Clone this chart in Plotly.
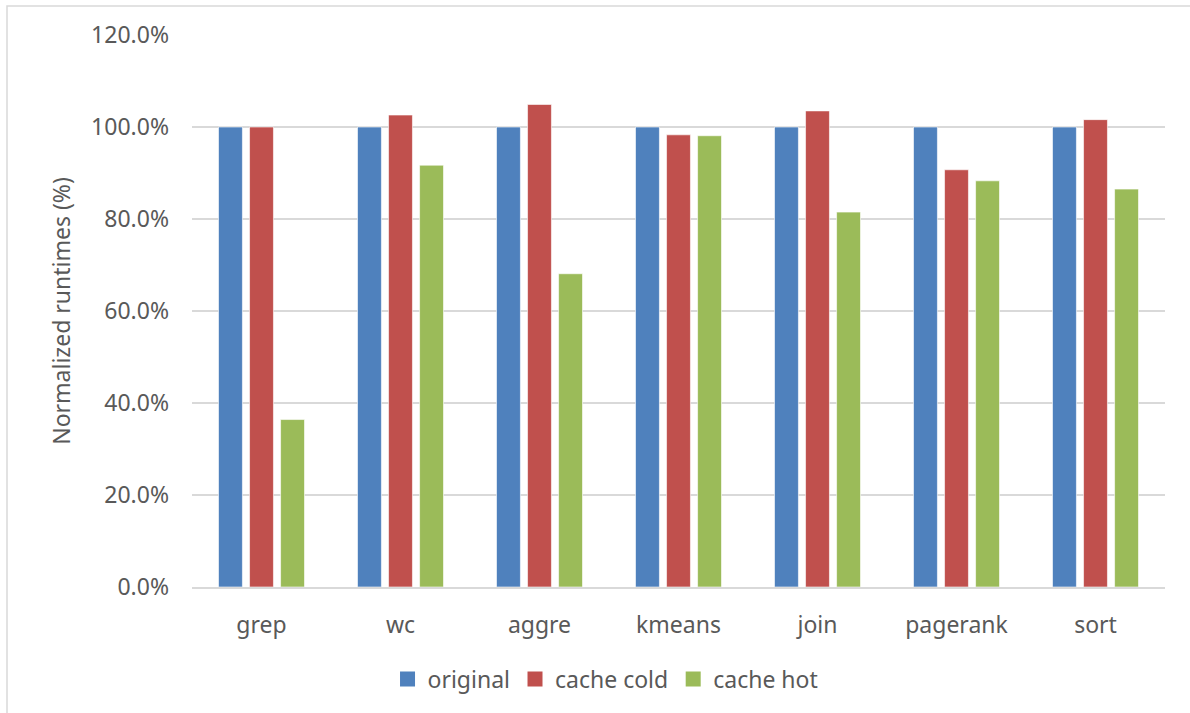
import plotly.graph_objects as go

# Workloads and normalized runtimes (% of the original run)
workloads = ["grep", "wc", "aggre", "kmeans", "join", "pagerank", "sort"]
original = [100.0, 100.0, 100.0, 100.0, 100.0, 100.0, 100.0]
cache_cold = [100.0, 102.6, 104.9, 98.3, 103.5, 90.7, 101.6]
cache_hot = [36.4, 91.7, 68.1, 98.1, 81.5, 88.3, 86.5]

series = [
    ("original", original, "#4F81BD"),
    ("cache cold", cache_cold, "#C0504D"),
    ("cache hot", cache_hot, "#9BBB59"),
]

FONT = "Noto Sans, Open Sans, sans-serif"
TEXT = "#595959"
FS = 23

fig = go.Figure()
for name, vals, color in series:
    fig.add_trace(go.Bar(
        name=name,
        x=workloads,
        y=vals,
        showlegend=False,
        marker=dict(color=color, line=dict(color="rgba(255,255,255,0.6)", width=1)),
    ))
# legend entries with larger square keys
for name, vals, color in series:
    fig.add_trace(go.Scatter(
        name=name,
        x=[workloads[0]],
        y=[None],
        mode="markers",
        marker=dict(symbol="square", size=15, color=color),
        showlegend=True,
    ))

# plot area in pixels: x 192..1165, y 35..587
W, H = 1190, 713
L, R, T, B = 192, 25, 35, 126
pw, ph = W - L - R, H - T - B

def px(x):
    return (x - L) / pw

def py(y):
    return (H - B - y) / ph

fig.update_layout(
    width=W,
    height=H,
    margin=dict(l=L, r=R, t=T, b=B, pad=0),
    paper_bgcolor="white",
    plot_bgcolor="white",
    barmode="group",
    bargap=0.33,
    bargroupgap=0.23,
    font=dict(family=FONT, size=FS, color=TEXT),
    showlegend=True,
    legend=dict(
        orientation="h",
        x=0.425,
        xanchor="center",
        y=py(679),
        yanchor="middle",
        font=dict(family=FONT, size=FS, color=TEXT),
        itemsizing="trace",
        traceorder="normal",
        itemwidth=30,
        tracegroupgap=0,
    ),
    xaxis=dict(
        showgrid=False,
        showline=True,
        linecolor="#D9D9D9",
        linewidth=2,
        ticks="",
        ticklabelstandoff=16,
        tickfont=dict(family=FONT, size=FS, color=TEXT),
    ),
    yaxis=dict(
        range=[0, 120],
        tickvals=[0, 20, 40, 60, 80, 100, 120],
        ticktext=["0.0%", "20.0%", "40.0%", "60.0%", "80.0%", "100.0%", "120.0%"],
        showgrid=True,
        gridcolor="#D9D9D9",
        gridwidth=2,
        zeroline=False,
        showline=False,
        ticks="",
        ticklabelstandoff=22,
        tickfont=dict(family=FONT, size=FS, color=TEXT),
        title=dict(text="Normalized runtimes (%)", standoff=14,
                   font=dict(family=FONT, size=FS, color=TEXT)),
        automargin=False,
    ),
    shapes=[
        dict(type="rect", xref="paper", yref="paper",
             x0=px(7), y0=py(730), x1=px(1210), y1=py(6),
             line=dict(color="#D9D9D9", width=1.5), fillcolor="rgba(0,0,0,0)",
             layer="below"),
    ],
)

fig.write_html("out.html")
